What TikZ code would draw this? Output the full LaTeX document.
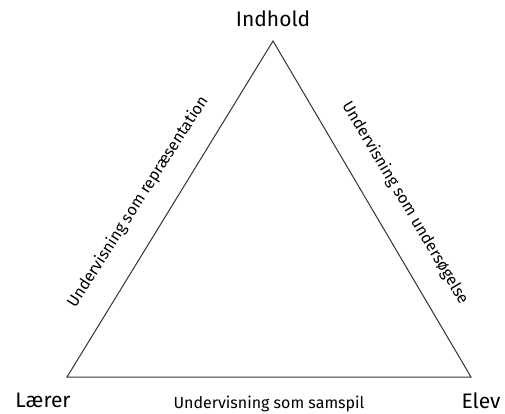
\documentclass[tikz,border=0pt]{standalone}
\usepackage{fontspec}
\setmainfont{Fira Sans}
\begin{document}
\begin{tikzpicture}[x=1pt,y=-1pt,
  corner/.style={font=\fontsize{21}{24}\selectfont, inner sep=0pt},
  sidelabel/.style={font=\fontsize{16}{18}\selectfont, inner sep=0pt},
  edge/.style={line width=1pt, draw=black!80, line join=miter}]
\useasboundingbox (0,0) rectangle (505,414);
\coordinate (A) at (273,41);
\coordinate (B) at (67,377);
\coordinate (C) at (471,377);
\draw[edge] (A) -- (B) -- (C) -- cycle;
\node[corner] (top) at (273,19) {Indhold};
\node[corner] (L) at (43,400) {Lærer};
\node[corner] (E) at (481,401) {Elev};
\node[sidelabel, rotate=57.4] (rep) at (138,202) {Undervisning som repræsentation};
\node[sidelabel, rotate=-59.3] (und) at (405,203) {Undervisning som undersøgelse};
\node[sidelabel] (sam) at (269,404) {Undervisning som samspil};
\end{tikzpicture}
\end{document}
